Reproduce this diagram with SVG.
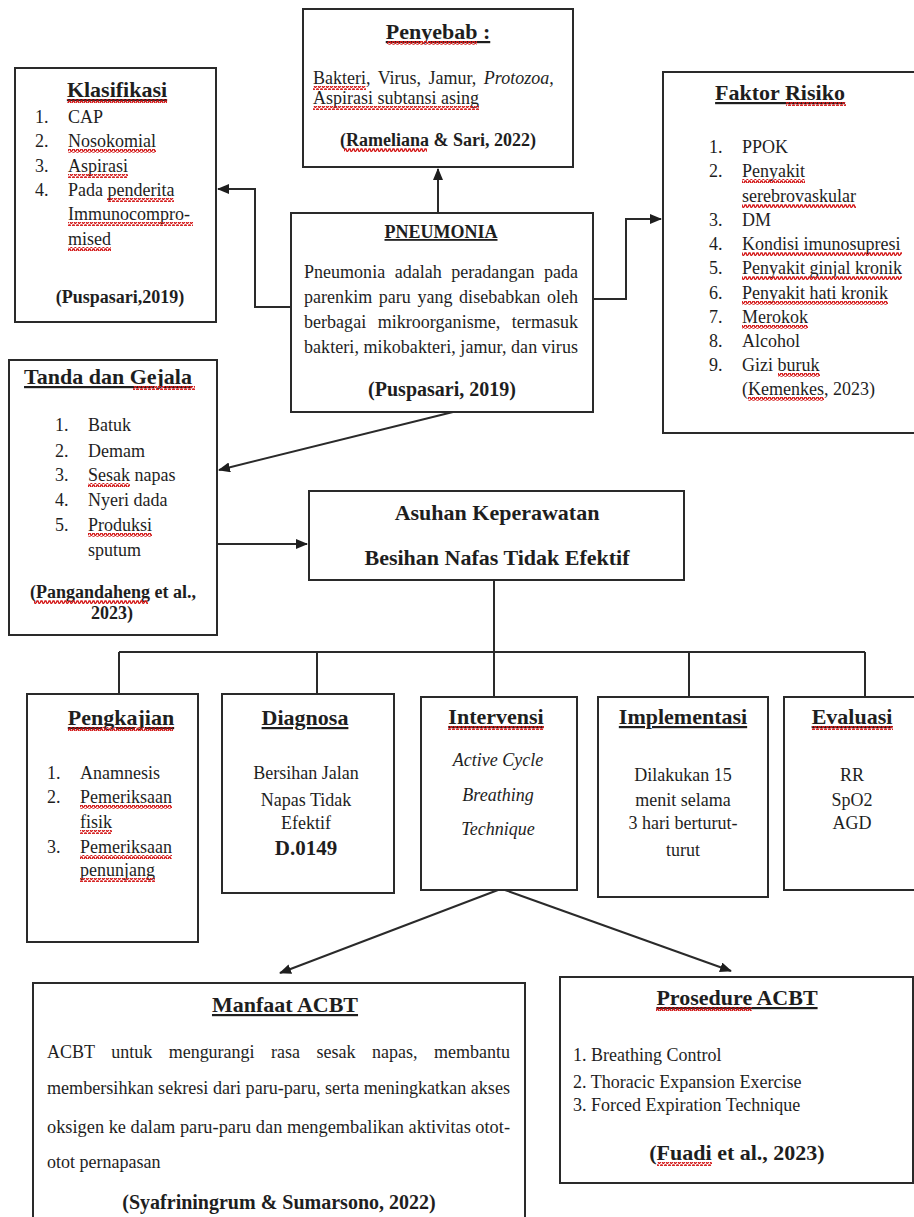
<svg xmlns="http://www.w3.org/2000/svg" width="914" height="1217" viewBox="0 0 914 1217">
<defs>
<style>
.box{fill:#fff;stroke:#2a2a2a;stroke-width:2}
.ln{fill:none;stroke:#2a2a2a;stroke-width:2}
text{font-family:"Liberation Serif","Times New Roman",serif;fill:#1e1e1e;font-size:18px}
.t{font-size:22px;font-weight:bold;text-decoration:underline;text-anchor:middle}
.c{text-anchor:middle}
.b{font-weight:bold}
.i{font-style:italic}
.sq{fill:url(#wave)}
</style>
<pattern id="wave" patternUnits="userSpaceOnUse" width="4" height="4">
<path d="M0 3.2 L1 1 L2 1 L3 3.2 L4 3.2" fill="none" stroke="#d41a1a" stroke-width="1.4"/>
</pattern>
<marker id="ah" markerUnits="userSpaceOnUse" markerWidth="12" markerHeight="10" refX="11" refY="5" orient="auto">
<path d="M0 0 L12 5 L0 10 Z" fill="#1e1e1e"/>
</marker>
</defs>

<g id="connectors">
<path class="ln" d="M438 213 V169" marker-end="url(#ah)"/>
<path class="ln" d="M291 307 H255 V189 H218" marker-end="url(#ah)"/>
<path class="ln" d="M593 299 H626 V219 H661" marker-end="url(#ah)"/>
<path class="ln" d="M453 412 L219 470" marker-end="url(#ah)"/>
<path class="ln" d="M217 544 H307" marker-end="url(#ah)"/>
<path class="ln" d="M494 580 V652"/>
<path class="ln" d="M119 652 H865"/>
<path class="ln" d="M119 652 V694 M317 652 V694 M494 652 V697 M689 652 V697 M865 652 V697"/>
<path class="ln" d="M498 890 L280 973" marker-end="url(#ah)"/>
<path class="ln" d="M505 890 L731 971" marker-end="url(#ah)"/>
</g>

<g id="penyebab">
<rect class="box" x="303" y="9" width="270" height="158"/>
<text class="t" x="438" y="39">Penyebab :</text>
<text x="313" y="84" word-spacing="3">Bakteri, Virus, Jamur, <tspan class="i">Protozoa,</tspan></text>
<text x="313" y="104">Aspirasi subtansi asing</text>
<text class="c b" x="438" y="146">(Rameliana &amp; Sari, 2022)</text>
<rect class="sq" x="387" y="41" width="90" height="4"/>
<rect class="sq" x="313" y="86" width="53" height="4"/>
<rect class="sq" x="313" y="106" width="166" height="4"/>
<rect class="sq" x="344" y="148" width="83" height="4"/>
</g>

<g id="klasifikasi">
<rect class="box" x="15" y="68" width="201" height="254"/>
<text class="t" x="117" y="97">Klasifikasi</text>
<text x="35" y="123">1.</text><text x="68" y="123">CAP</text>
<text x="35" y="147">2.</text><text x="68" y="147">Nosokomial</text>
<text x="35" y="172">3.</text><text x="68" y="172">Aspirasi</text>
<text x="35" y="196">4.</text><text x="68" y="196">Pada penderita</text>
<text x="68" y="220">Immunocompro-</text>
<text x="68" y="245">mised</text>
<text class="c b" x="120" y="303">(Puspasari,2019)</text>
<rect class="sq" x="67" y="99" width="100" height="4"/>
<rect class="sq" x="68" y="149" width="88" height="4"/>
<rect class="sq" x="68" y="174" width="60" height="4"/>
<rect class="sq" x="107" y="198" width="67" height="4"/>
<rect class="sq" x="68" y="222" width="125" height="4"/>
<rect class="sq" x="68" y="247" width="43" height="4"/>
</g>

<g id="pneumonia">
<rect class="box" x="291" y="213" width="302" height="199"/>
<text class="c b" x="441" y="238" style="text-decoration:underline">PNEUMONIA</text>
<text x="304" y="278" textLength="274" lengthAdjust="spacing" word-spacing="5">Pneumonia adalah peradangan pada</text>
<text x="304" y="303" textLength="274" lengthAdjust="spacing" word-spacing="2">parenkim paru yang disebabkan oleh</text>
<text x="304" y="328" textLength="274" lengthAdjust="spacing" word-spacing="7">berbagai mikroorganisme, termasuk</text>
<text x="304" y="353" textLength="274" lengthAdjust="spacing">bakteri, mikobakteri, jamur, dan virus</text>
<text class="c b" x="442" y="396" style="font-size:20px">(Puspasari, 2019)</text>
</g>

<g id="faktor-risiko">
<rect class="box" x="663" y="72" width="260" height="361"/>
<text class="t" x="780" y="100">Faktor Risiko</text>
<text x="709" y="153">1.</text><text x="742" y="153">PPOK</text>
<text x="709" y="177">2.</text><text x="742" y="177">Penyakit</text>
<text x="742" y="202">serebrovaskular</text>
<text x="709" y="226">3.</text><text x="742" y="226">DM</text>
<text x="709" y="250">4.</text><text x="742" y="250">Kondisi imunosupresi</text>
<text x="709" y="274">5.</text><text x="742" y="274">Penyakit ginjal kronik</text>
<text x="709" y="299">6.</text><text x="742" y="299">Penyakit hati kronik</text>
<text x="709" y="323">7.</text><text x="742" y="323">Merokok</text>
<text x="709" y="347">8.</text><text x="742" y="347">Alcohol</text>
<text x="709" y="371">9.</text><text x="742" y="371">Gizi buruk</text>
<text x="742" y="395">(Kemenkes, 2023)</text>
<rect class="sq" x="786" y="102" width="60" height="4"/>
<rect class="sq" x="742" y="179" width="63" height="4"/>
<rect class="sq" x="742" y="204" width="114" height="4"/>
<rect class="sq" x="742" y="252" width="160" height="4"/>
<rect class="sq" x="742" y="276" width="160" height="4"/>
<rect class="sq" x="742" y="301" width="146" height="4"/>
<rect class="sq" x="742" y="325" width="66" height="4"/>
<rect class="sq" x="778" y="373" width="42" height="4"/>
<rect class="sq" x="748" y="397" width="76" height="4"/>
</g>

<g id="tanda-gejala">
<rect class="box" x="9" y="360" width="208" height="275"/>
<text class="t" x="108" y="384">Tanda dan Gejala</text>
<text x="55" y="431">1.</text><text x="88" y="431">Batuk</text>
<text x="55" y="457">2.</text><text x="88" y="457">Demam</text>
<text x="55" y="481">3.</text><text x="88" y="481">Sesak napas</text>
<text x="55" y="506">4.</text><text x="88" y="506">Nyeri dada</text>
<text x="55" y="531">5.</text><text x="88" y="531">Produksi</text>
<text x="88" y="556">sputum</text>
<text class="c b" x="113" y="598">(Pangandaheng et al.,</text>
<text class="c b" x="112" y="619">2023)</text>
<rect class="sq" x="133" y="386" width="62" height="4"/>
<rect class="sq" x="88" y="483" width="42" height="4"/>
<rect class="sq" x="88" y="533" width="64" height="4"/>
<rect class="sq" x="34" y="600" width="114" height="4"/>
</g>

<g id="asuhan">
<rect class="box" x="309" y="491" width="375" height="89"/>
<text class="c b" x="497" y="520" style="font-size:22px">Asuhan Keperawatan</text>
<text class="c b" x="497" y="565" style="font-size:22px">Besihan Nafas Tidak Efektif</text>
</g>

<g id="pengkajian">
<rect class="box" x="27" y="694" width="171" height="248"/>
<text class="t" x="121" y="725">Pengkajian</text>
<text x="47" y="779">1.</text><text x="80" y="779">Anamnesis</text>
<text x="47" y="803">2.</text><text x="80" y="803">Pemeriksaan</text>
<text x="80" y="828">fisik</text>
<text x="47" y="853">3.</text><text x="80" y="853">Pemeriksaan</text>
<text x="80" y="876">penunjang</text>
<rect class="sq" x="68" y="727" width="105" height="4"/>
<rect class="sq" x="80" y="805" width="92" height="4"/>
<rect class="sq" x="80" y="830" width="32" height="4"/>
<rect class="sq" x="80" y="855" width="92" height="4"/>
<rect class="sq" x="80" y="878" width="75" height="4"/>
</g>

<g id="diagnosa">
<rect class="box" x="222" y="694" width="172" height="199"/>
<text class="t" x="305" y="725">Diagnosa</text>
<text class="c" x="306" y="779">Bersihan Jalan</text>
<text class="c" x="306" y="806">Napas Tidak</text>
<text class="c" x="306" y="829">Efektif</text>
<text class="c b" x="306" y="855" style="font-size:21px">D.0149</text>
</g>

<g id="intervensi">
<rect class="box" x="421" y="697" width="156" height="193"/>
<text class="t" x="496" y="724">Intervensi</text>
<text class="c i" x="498" y="766">Active Cycle</text>
<text class="c i" x="498" y="801">Breathing</text>
<text class="c i" x="498" y="835">Technique</text>
<rect class="sq" x="448" y="726" width="96" height="4"/>
</g>

<g id="implementasi">
<rect class="box" x="598" y="697" width="170" height="200"/>
<text class="t" x="683" y="724">Implementasi</text>
<text class="c" x="683" y="781">Dilakukan 15</text>
<text class="c" x="683" y="806">menit selama</text>
<text class="c" x="683" y="829">3 hari berturut-</text>
<text class="c" x="683" y="856">turut</text>
</g>

<g id="evaluasi">
<rect class="box" x="784" y="697" width="140" height="193"/>
<text class="t" x="852" y="724">Evaluasi</text>
<text class="c" x="852" y="781">RR</text>
<text class="c" x="852" y="806">SpO2</text>
<text class="c" x="852" y="829">AGD</text>
<rect class="sq" x="812" y="726" width="81" height="4"/>
</g>

<g id="manfaat-acbt">
<rect class="box" x="33" y="983" width="492" height="260"/>
<text class="t" x="285" y="1012">Manfaat ACBT</text>
<text x="47" y="1058" word-spacing="12" textLength="463" lengthAdjust="spacing">ACBT untuk mengurangi rasa sesak napas, membantu</text>
<text x="47" y="1094" textLength="463" lengthAdjust="spacingAndGlyphs">membersihkan sekresi dari paru-paru, serta meningkatkan akses</text>
<text x="47" y="1133" textLength="463" lengthAdjust="spacingAndGlyphs">oksigen ke dalam paru-paru dan mengembalikan aktivitas otot-</text>
<text x="47" y="1168">otot pernapasan</text>
<text class="c b" x="279" y="1209" style="font-size:20px">(Syafriningrum &amp; Sumarsono, 2022)</text>
</g>

<g id="prosedure-acbt">
<rect class="box" x="560" y="977" width="353" height="206"/>
<text class="t" x="737" y="1005">Prosedure ACBT</text>
<text x="573" y="1061">1. Breathing Control</text>
<text x="573" y="1088">2. Thoracic Expansion Exercise</text>
<text x="573" y="1111">3. Forced Expiration Technique</text>
<text class="c b" x="737" y="1160" style="font-size:22px">(Fuadi et al., 2023)</text>
<rect class="sq" x="656" y="1007" width="96" height="4"/>
<rect class="sq" x="657" y="1162" width="55" height="4"/>
</g>
</svg>
